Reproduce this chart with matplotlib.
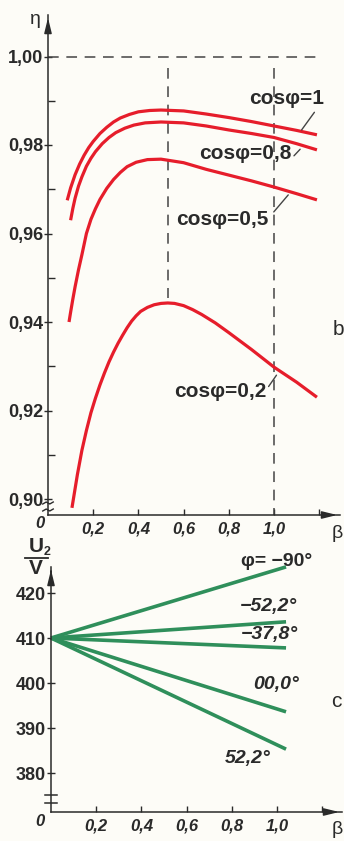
import matplotlib

matplotlib.use("Agg")
import matplotlib.pyplot as plt
import numpy as np

# efficiency curves, eta vs load factor beta
beta_c1 = [0.085, 0.10, 0.12, 0.14, 0.16, 0.18, 0.20, 0.23, 0.26, 0.29, 0.32, 0.36, 0.40, 0.45, 0.50, 0.60, 0.70, 0.80, 0.90, 1.00, 1.10, 1.19]
eta_c1 = [0.9675, 0.9703, 0.9733, 0.9757, 0.9777, 0.9794, 0.9808, 0.9826, 0.9840, 0.9852, 0.9861, 0.9869, 0.9875, 0.9878, 0.9879, 0.9877, 0.9870, 0.9862, 0.9853, 0.9843, 0.9833, 0.9823]

beta_c08 = [0.10, 0.11, 0.12, 0.135, 0.15, 0.17, 0.19, 0.21, 0.24, 0.27, 0.30, 0.34, 0.38, 0.43, 0.50, 0.60, 0.70, 0.80, 0.90, 1.00, 1.10, 1.19]
eta_c08 = [0.9630, 0.9657, 0.9680, 0.9707, 0.9728, 0.9752, 0.9770, 0.9785, 0.9803, 0.9817, 0.9828, 0.9838, 0.9845, 0.9850, 0.9852, 0.9850, 0.9843, 0.9834, 0.9826, 0.9817, 0.9803, 0.9789]

beta_c05 = [0.093, 0.10, 0.11, 0.12, 0.135, 0.15, 0.17, 0.19, 0.21, 0.23, 0.26, 0.29, 0.32, 0.35, 0.39, 0.44, 0.50, 0.60, 0.70, 0.80, 0.90, 1.00, 1.10, 1.19]
eta_c05 = [0.9400, 0.9422, 0.9452, 0.9480, 0.9518, 0.9552, 0.9600, 0.9632, 0.9656, 0.9677, 0.9702, 0.9722, 0.9738, 0.9751, 0.9761, 0.9767, 0.9768, 0.9760, 0.9745, 0.9732, 0.9719, 0.9705, 0.9690, 0.9676]

beta_c02 = [0.106, 0.13, 0.15, 0.17, 0.19, 0.21, 0.23, 0.25, 0.27, 0.29, 0.31, 0.33, 0.35, 0.37, 0.39, 0.41, 0.44, 0.47, 0.50, 0.53, 0.56, 0.60, 0.64, 0.68, 0.74, 0.80, 0.90, 1.00, 1.10, 1.19]
eta_c02 = [0.8980, 0.9055, 0.9110, 0.9155, 0.9195, 0.9228, 0.9258, 0.9285, 0.9310, 0.9332, 0.9352, 0.9370, 0.9387, 0.9402, 0.9414, 0.9424, 0.9433, 0.9439, 0.9442, 0.9443, 0.9442, 0.9437, 0.9428, 0.9417, 0.9398, 0.9376, 0.9338, 0.9298, 0.9264, 0.9230]

eta_labels = ["cosφ=1", "cosφ=0,8", "cosφ=0,5", "cosφ=0,2"]
eta_label_pos = [(1.058, 0.9904), (0.872, 0.9780), (0.770, 0.9631), (0.761, 0.9244)]
eta_leader_from = [(1.186, 0.9879), (1.080, 0.9771), (0.991, 0.9644), (0.969, 0.9249)]
eta_leader_to = [(1.115, 0.9829), (1.124, 0.9795), (1.071, 0.9692), (1.018, 0.9285)]

beta_opt = 0.531  # max efficiency load

# secondary voltage vs load factor
beta_u = [0.0, 1.04]
u_m90 = [410, 425.8]
u_m522 = [410, 413.6]
u_m378 = [410, 407.8]
u_0 = [410, 393.6]
u_p522 = [410, 385.3]
u_labels = ["φ= −90°", "−52,2°", "−37,8°", "00,0°", "52,2°"]
u_label_pos = [(1.00, 426.9), (0.960, 416.9), (0.965, 410.7), (0.996, 399.6), (0.872, 383.3)]

x_ticks = [0.2, 0.4, 0.6, 0.8, 1.0, 1.2]
x_ticklabels = ["0,2", "0,4", "0,6", "0,8", "1,0", ""]
eta_ticks = [0.90, 0.92, 0.94, 0.96, 0.98, 1.00]
eta_ticklabels = ["0,90", "0,92", "0,94", "0,96", "0,98", "1,00"]
u_ticks = [380, 390, 400, 410, 420]

W, H = 344, 841
BG = "#fdfcf7"
INK = "#2a2a2a"
RED = "#e61d2b"
GREEN = "#2f8f5b"
FONT = ["Liberation Sans", "DejaVu Sans"]

plt.rcParams["font.family"] = FONT


def fx(px):
    return px / W


def fy(py):
    return 1 - py / H


fig = plt.figure(figsize=(W / 100, H / 100), dpi=100)
fig.patch.set_facecolor(BG)


def style_axes(ax):
    ax.set_facecolor(BG)
    ax.spines[["top", "right"]].set_visible(False)
    for s in ("left", "bottom"):
        ax.spines[s].set_color(INK)
        ax.spines[s].set_linewidth(1.1)
    ax.set_xticks(x_ticks)
    ax.set_xticklabels(x_ticklabels, fontsize=12, fontweight="bold", style="italic", color=INK)
    ax.tick_params(axis="x", direction="in", length=4, width=1, colors=INK, pad=5)
    ax.tick_params(axis="y", direction="inout", length=6, width=1, colors=INK, pad=0.5)
    # axis arrows
    ax.annotate("", xy=(0, 1), xytext=(0, 0.97), xycoords="axes fraction",
                arrowprops=dict(arrowstyle="-|>,head_length=0.9,head_width=0.22", color=INK, lw=1.1))
    ax.annotate("", xy=(1, 0), xytext=(0.95, 0), xycoords="axes fraction",
                arrowprops=dict(arrowstyle="-|>,head_length=0.9,head_width=0.22", color=INK, lw=1.1))


# ---- top: efficiency ----
ax1 = fig.add_axes([fx(48), fy(515), 292 / W, 500 / H])
style_axes(ax1)
ax1.set_xlim(0, 292 / 226)
ax1.set_ylim(0.98 - 370 / 4425, 0.98 + 130 / 4425)
ax1.set_yticks(eta_ticks)
ax1.set_yticklabels(eta_ticklabels, fontsize=13, fontweight="bold", color=INK)
ax1.set_yticks(np.arange(0.91, 1.0, 0.02), minor=True)
ax1.tick_params(axis="y", which="minor", direction="in", length=5, width=1, colors=INK)

dash = dict(color="#444444", lw=1.1, linestyle=(0, (7, 5)))
ax1.plot([0, 1.21], [1.0, 1.0], **dash)
ax1.plot([beta_opt, beta_opt], [0.9974, max(eta_c02) + 0.0012], **dash)
ax1.plot([1.0, 1.0], [0.9974, ax1.get_ylim()[0]], **dash)

for bx, ey in [(beta_c1, eta_c1), (beta_c08, eta_c08), (beta_c05, eta_c05), (beta_c02, eta_c02)]:
    ax1.plot(bx, ey, color=RED, lw=2.3, solid_capstyle="butt", solid_joinstyle="round")

for txt, pos, p0, p1 in zip(eta_labels, eta_label_pos, eta_leader_from, eta_leader_to):
    ax1.text(pos[0], pos[1], txt, fontsize=15, fontweight="bold", color=INK, ha="center", va="center")
    ax1.annotate("", xy=p1, xytext=p0, arrowprops=dict(arrowstyle="-", color="#444444", lw=1))

ax1.text(1.283, 0.9382, "b", fontsize=15, color=INK, ha="center", va="center")

# axis break marks
for yy in (0.010, 0.024):
    ax1.plot([-0.018, -0.006, 0.006, 0.018], [yy - 0.002, yy + 0.002, yy - 0.002, yy + 0.002],
             transform=ax1.transAxes, color=INK, lw=1, clip_on=False)

# ---- bottom: secondary voltage ----
ax2 = fig.add_axes([fx(51), fy(812), 291 / W, 245 / H])
style_axes(ax2)
ax2.set_xlim(0, 291 / 226)
ax2.set_ylim(410 - 174 / 4.5, 410 + 71 / 4.5)
ax2.set_yticks(u_ticks)
ax2.set_yticklabels([str(v) for v in u_ticks], fontsize=13, fontweight="bold", color=INK)

for u in (u_m90, u_m522, u_m378, u_0, u_p522):
    ax2.plot(beta_u, u, color=GREEN, lw=2.6, solid_capstyle="butt", clip_on=False)

for i, (txt, pos) in enumerate(zip(u_labels, u_label_pos)):
    ax2.text(pos[0], pos[1], txt, fontsize=14, fontweight="bold", color=INK,
             style="normal" if i == 0 else "italic", ha="center", va="center")

ax2.text(1.24, 395.8, "c", fontsize=15, color=INK, ha="left", va="center")

for yy in (0.037, 0.069):
    ax2.plot([-0.02, 0.02], [yy, yy], transform=ax2.transAxes, color=INK, lw=1.1, clip_on=False)

# ---- axis titles ----
fig.text(fx(35), fy(20), "η", fontsize=14, color=INK, ha="center", va="center")
fig.text(fx(40), fy(523), "0", fontsize=12, fontweight="bold", style="italic", color=INK, ha="center", va="center")
fig.text(fx(40), fy(822), "0", fontsize=12, fontweight="bold", style="italic", color=INK, ha="center", va="center")
fig.text(fx(337), fy(533), "β", fontsize=14, color=INK, ha="center", va="center")
fig.text(fx(337), fy(830), "β", fontsize=14, color=INK, ha="center", va="center")
fig.text(fx(36), fy(546), "U", fontsize=15, fontweight="bold", color=INK, ha="center", va="center")
fig.text(fx(47), fy(552), "2", fontsize=9, fontweight="bold", color=INK, ha="center", va="center")
fig.add_artist(plt.Line2D([fx(25), fx(48)], [fy(558), fy(558)], color=INK, lw=1.3))
fig.text(fx(36), fy(569), "V", fontsize=15, fontweight="bold", color=INK, ha="center", va="center")

fig.savefig("out.png", dpi=100, facecolor=BG)
